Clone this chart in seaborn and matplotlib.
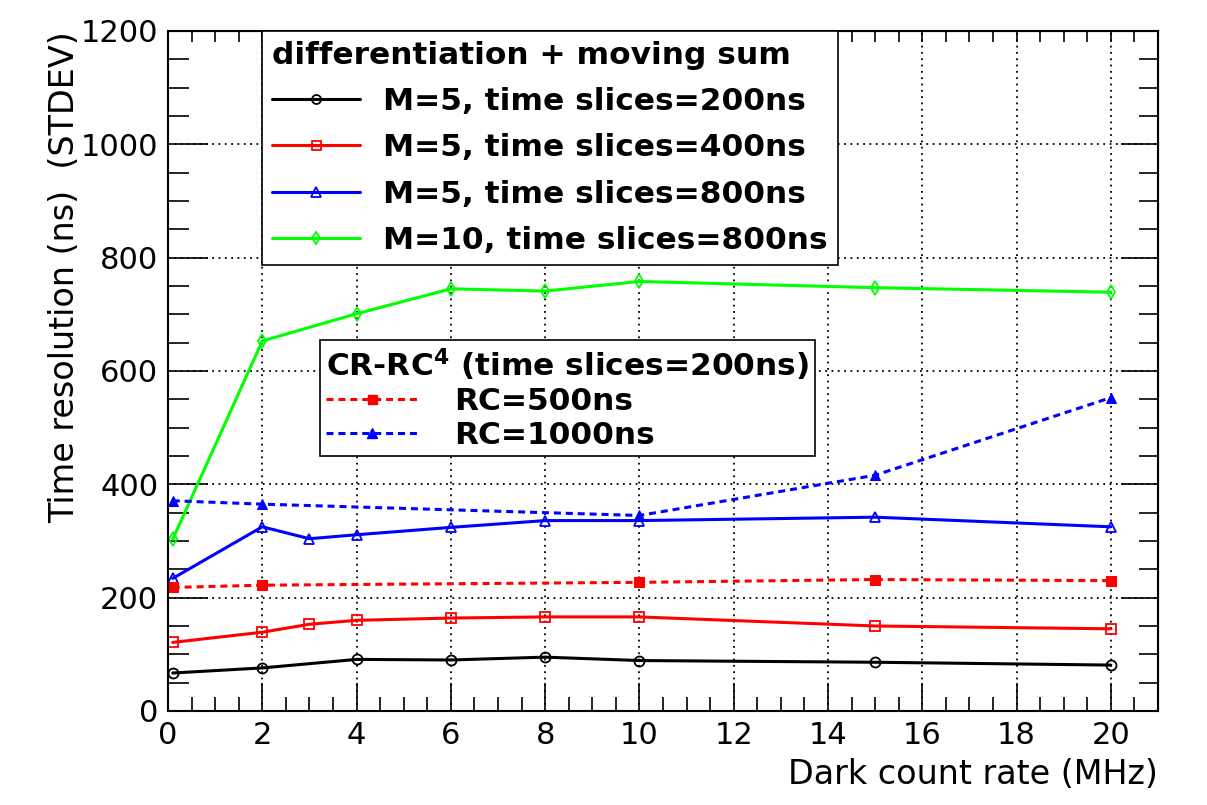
import matplotlib
matplotlib.use("Agg")
import matplotlib.pyplot as plt
from matplotlib.lines import Line2D
from matplotlib.ticker import MultipleLocator
import seaborn as sns

# dark count rate (MHz)
x_full = [0.1, 2, 3, 4, 6, 8, 10, 15, 20]
x_black = [0.1, 2, 4, 6, 8, 10, 15, 20]
x_green = [0.1, 2, 4, 6, 8, 10, 15, 20]
x_rc = [0.1, 2, 10, 15, 20]

# differentiation + moving sum
m5_200 = [67, 76, 91, 90, 95, 89, 86, 81]
m5_400 = [121, 139, 153, 160, 164, 166, 166, 150, 145]
m5_800 = [234, 325, 304, 311, 324, 336, 336, 342, 325]
m10_800 = [303, 653, 701, 745, 741, 758, 747, 739]

# CR-RC^4
rc500 = [218, 222, 227, 232, 230]
rc1000 = [371, 365, 345, 416, 553]

labels_ms = ["M=5, time slices=200ns", "M=5, time slices=400ns",
             "M=5, time slices=800ns", "M=10, time slices=800ns"]
labels_rc = ["RC=500ns", "RC=1000ns"]

sns.set_style("white")
plt.rcParams["font.family"] = ["DejaVu Sans"]
plt.rcParams["text.color"] = "black"
plt.rcParams["axes.labelcolor"] = "black"
plt.rcParams["xtick.color"] = "black"
plt.rcParams["ytick.color"] = "black"
plt.rcParams["mathtext.fontset"] = "custom"
plt.rcParams["mathtext.rm"] = "DejaVu Sans:bold"
plt.rcParams["mathtext.it"] = "DejaVu Sans:bold"
plt.rcParams["mathtext.bf"] = "DejaVu Sans:bold"

fig = plt.figure(figsize=(12.07, 8.05), dpi=100)
ax = fig.add_axes([0.1392, 0.1168, 0.8202, 0.8447])

lw = 2.2
dash = (0, (2.3, 1.6))
series = [
    (x_black, m5_200, "black", "o", 7.2),
    (x_full, m5_400, "#ff0000", "s", 7.2),
    (x_full, m5_800, "#0000ff", "^", 7.5),
    (x_green, m10_800, "#00ff00", "d", 7.0),
]
handles_ms = []
for xs, ys, col, mk, ms in series:
    sns.lineplot(x=xs, y=ys, ax=ax, color=col, marker=mk, linewidth=lw,
                 markersize=ms, markerfacecolor="none", markeredgecolor=col,
                 markeredgewidth=1.3, sort=False, estimator=None)
    handles_ms.append(Line2D([], [], color=col, marker=mk, linestyle="-",
                             linewidth=lw, markersize=ms * 0.9,
                             markerfacecolor="none", markeredgecolor=col,
                             markeredgewidth=1.3))

series_rc = [
    (x_rc, rc500, "#ff0000", "s", 7.2),
    (x_rc, rc1000, "#0000ff", "^", 7.5),
]
handles_rc = []
for xs, ys, col, mk, ms in series_rc:
    sns.lineplot(x=xs, y=ys, ax=ax, color=col, marker=mk, linewidth=lw,
                 markersize=ms, markerfacecolor=col, markeredgecolor=col,
                 sort=False, estimator=None)
    ax.lines[-1].set_linestyle(dash)
    handles_rc.append(Line2D([], [], color=col, marker=mk, linestyle=dash,
                             linewidth=lw, markersize=ms * 0.9,
                             markerfacecolor=col, markeredgecolor=col))

ax.set_xlim(0, 21)
ax.set_ylim(0, 1200)
ax.xaxis.set_major_locator(MultipleLocator(2))
ax.xaxis.set_minor_locator(MultipleLocator(0.5))
ax.yaxis.set_major_locator(MultipleLocator(200))
ax.yaxis.set_minor_locator(MultipleLocator(50))
ax.tick_params(axis="both", which="both", direction="in", bottom=True,
               left=True, labelsize=22, width=1.2)
ax.tick_params(axis="x", which="major", length=20, pad=7)
ax.tick_params(axis="x", which="minor", length=10)
ax.tick_params(axis="y", which="major", length=29, pad=7)
ax.tick_params(axis="y", which="minor", length=15)
ax.grid(True, which="major", color="black", linestyle=(0, (1, 2.5)),
        linewidth=1.3)
for sp in ax.spines.values():
    sp.set_color("black")
    sp.set_linewidth(1.5)

# right-hand ticks like the left ones, short ticks along the top
ax_r = ax.secondary_yaxis("right")
ax_r.yaxis.set_major_locator(MultipleLocator(200))
ax_r.yaxis.set_minor_locator(MultipleLocator(50))
ax_r.tick_params(which="both", direction="in", labelright=False, width=1.2)
ax_r.tick_params(which="major", length=27)
ax_r.tick_params(which="minor", length=14)
ax_t = ax.secondary_xaxis("top")
ax_t.xaxis.set_major_locator(MultipleLocator(2))
ax_t.xaxis.set_minor_locator(MultipleLocator(0.5))
ax_t.tick_params(which="both", direction="in", labeltop=False, length=8,
                 width=1.2)

ax.set_xlabel("Dark count rate (MHz)", fontsize=24, loc="right", labelpad=6)
ax.set_ylabel("Time resolution (ns)  (STDEV)", fontsize=24, loc="top",
              labelpad=0)

leg1 = ax.legend(handles_ms, labels_ms, loc="upper left",
                 bbox_to_anchor=(0.095, 1.0), frameon=True, fancybox=False,
                 edgecolor="black", framealpha=1, borderaxespad=0,
                 title="differentiation + moving sum",
                 prop={"weight": "bold", "size": 22.5},
                 title_fontproperties={"weight": "bold", "size": 22.5},
                 handlelength=2.8, handletextpad=0.75, labelspacing=0.55,
                 alignment="left", borderpad=0.32)
leg1.get_frame().set_linewidth(1.2)
ax.add_artist(leg1)

leg2 = ax.legend(handles_rc, labels_rc, loc="upper left",
                 bbox_to_anchor=(0.1535, 0.5456), frameon=True,
                 fancybox=False, edgecolor="black", framealpha=1,
                 borderaxespad=0,
                 title="CR-RC$^{4}$ (time slices=200ns)",
                 prop={"weight": "bold", "size": 22.5},
                 title_fontproperties={"weight": "bold", "size": 22.5},
                 handlelength=2.9, handletextpad=1.2, labelspacing=0.15,
                 alignment="left", borderpad=0.2)
leg2.get_frame().set_linewidth(1.2)

fig.savefig("out.png", dpi=100)
